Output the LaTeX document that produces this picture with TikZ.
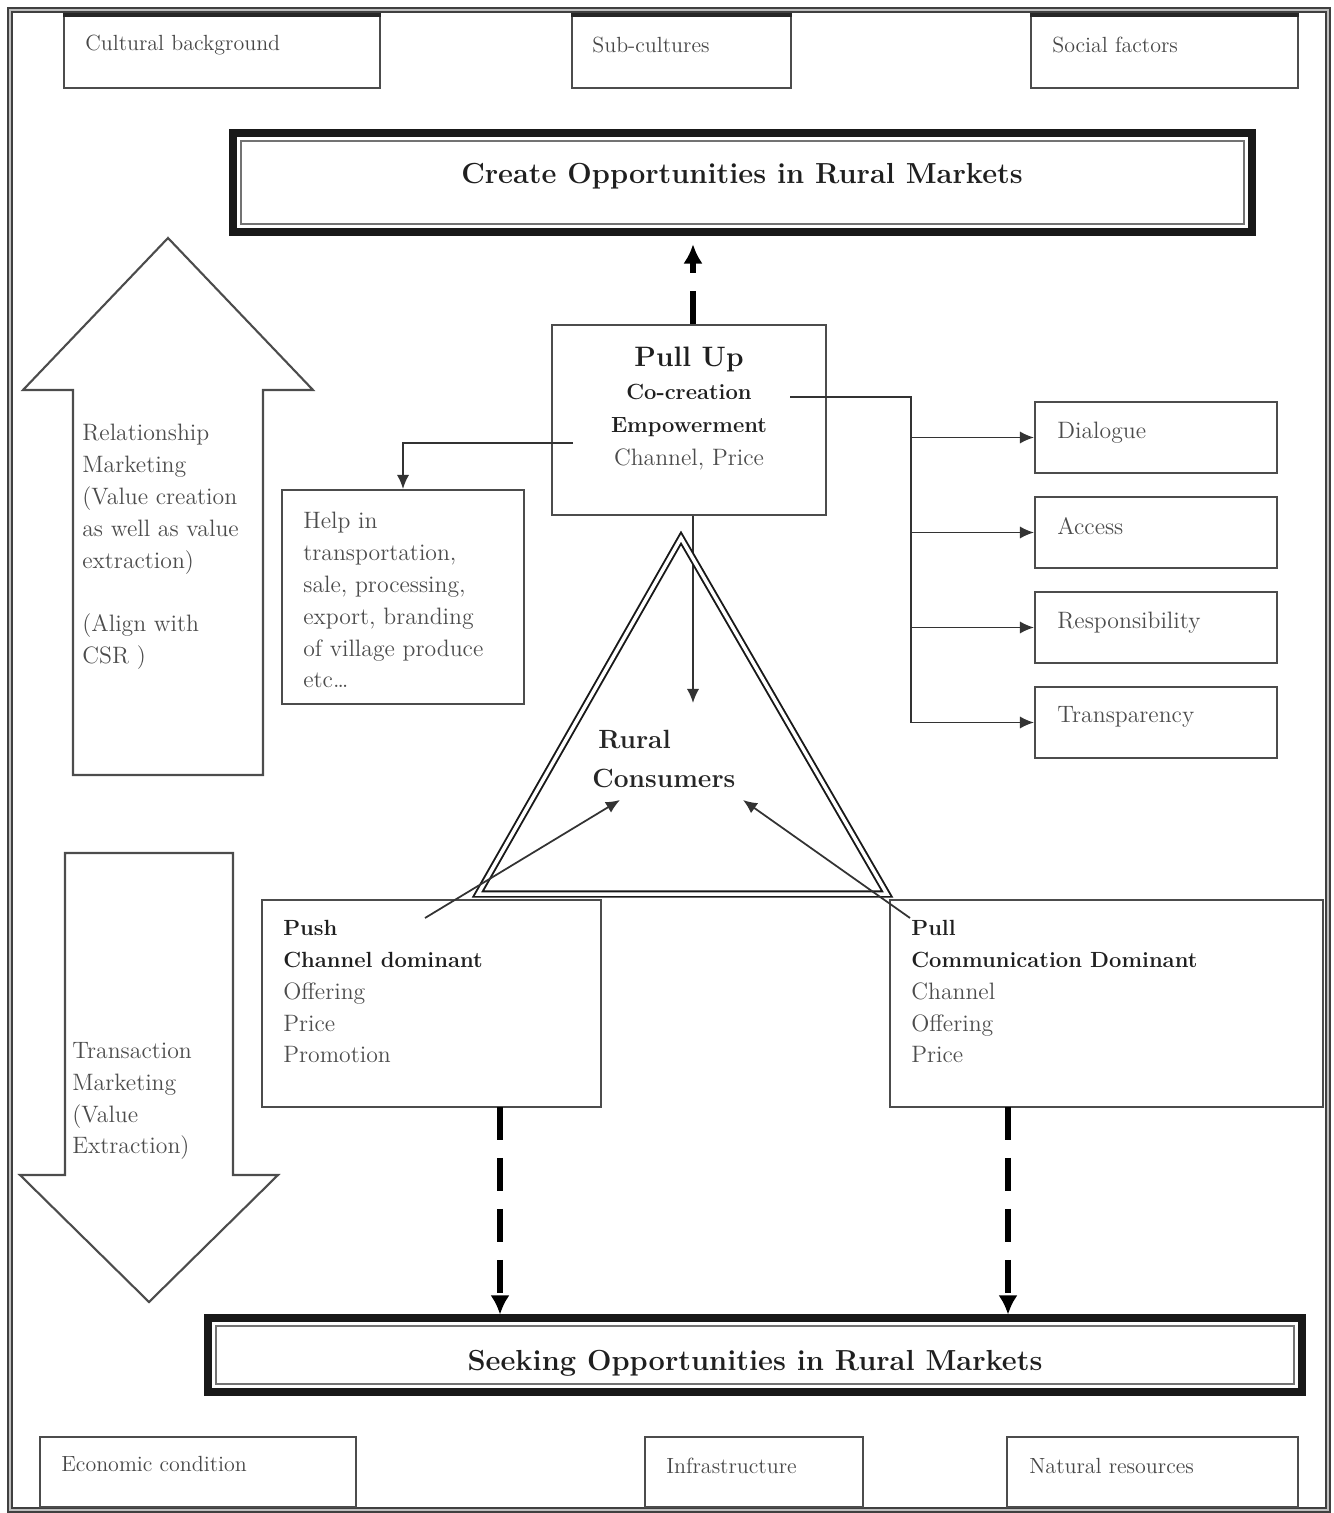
\documentclass[tikz,border=0pt]{standalone}
\usetikzlibrary{arrows.meta,fit}

\tikzset{
    outerframe/.style={draw=black!75, double=black!25, double distance=1.2pt, line width=0.9pt},
    box/.style={draw=black!70, line width=1.2pt, inner sep=0pt},
    banner/.style={draw=black!55, line width=1pt, inner sep=0pt},
    rim/.style={draw=black!90, line width=4.5pt},
    txt/.style={anchor=north west, inner sep=0pt, align=left, text=black!70, font=\fontsize{13.5}{18.1}\selectfont},
    tag/.style={anchor=north west, inner sep=0pt, text=black!72, font=\fontsize{12.5}{15}\selectfont},
    title/.style={anchor=base, inner sep=0pt, text=black!88, font=\fontsize{16.5}{20}\selectfont\bfseries},
    conn/.style={draw=black!80, line width=1pt},
    arr/.style={-{Latex[length=8pt,width=7pt]}},
    bolddash/.style={draw=black, line width=3.6pt, dash pattern=on 19pt off 10pt, -{Latex[length=11pt,width=11pt]}},
    hollow/.style={draw=black!70, line width=1.2pt, line join=miter},
    tri/.style={draw=black!90, line width=1.1pt, double=white, double distance=2pt, line join=miter}
}
\newcommand{\bfline}[1]{{\fontsize{12.5}{18.1}\selectfont\bfseries\color{black!88}#1}}

\begin{document}
\begin{tikzpicture}[x=0.02cm, y=-0.02cm]
        \useasboundingbox (0,0) rectangle (1333,1513);
        \draw[outerframe] (10,10) rectangle (1328,1510);

        \node[box, fit={(64,16) (380,88)}] (cul) {};
        \node[box, fit={(572,16) (791,88)}] (sub) {};
        \node[box, fit={(1031,16) (1298,88)}] (soc) {};
        \foreach \b in {cul,sub,soc}
            \draw[line width=2.4pt, black!85] (\b.north west) -- (\b.north east);
        \node[tag] (cult) at (85,35) {Cultural background};
        \node[tag] (subt) at (592,37) {Sub-cultures};
        \node[tag] (soct) at (1052,37) {Social factors};

        \node[banner, fit={(241,141) (1244,224)}] (cre) {};
        \draw[rim] ([shift={(-4pt,4pt)}]cre.north west) rectangle ([shift={(4pt,-4pt)}]cre.south east);
        \node[title] (cret) at (742,184) {Create Opportunities in Rural Markets};

        \node[box, fit={(552,325) (826,515)}] (pu) {};
        \node[txt, anchor=north, align=center, font=\fontsize{13.5}{18.7}\selectfont] (put) at (689,347)
            {{\fontsize{16}{20}\selectfont\bfseries\color{black!88}Pull Up}\\\bfline{Co-creation}\\\bfline{Empowerment}\\Channel, Price};
        \coordinate (rctop) at (693,703);
        \draw[bolddash, shorten >=11pt] (pu.north -| rctop) -- (cre.south -| rctop);
        \draw[conn, arr] (pu.south -| rctop) -- (rctop);

        \node[box, fit={(1035,402) (1277,473)}] (dlg) {};
        \node[box, fit={(1035,497) (1277,568)}] (acc) {};
        \node[box, fit={(1035,592) (1277,663)}] (resp) {};
        \node[box, fit={(1035,687) (1277,758)}] (transp) {};
        \node[txt] (dlgt) at (1057,422) {Dialogue};
        \node[txt] (acct) at (1057,517) {Access};
        \node[txt] (respt) at (1057,612) {Responsibility};
        \node[txt] (transpt) at (1057,706) {Transparency};
        \coordinate (pur) at (790,397);
        \coordinate (trunk) at (911,397);
        \draw[conn] (pur) -- (trunk) -- (trunk |- transp.west);
        \foreach \b in {dlg,acc,resp,transp}
            \draw[conn, arr] (trunk |- \b.west) -- (\b.west);

        \node[box, fit={(282,490) (524,704)}] (help) {};
        \node[txt] (helpt) at (303,512) {Help in\\transportation,\\sale, processing,\\export, branding\\of village produce\\etc\ldots};
        \coordinate (pul) at (573,443);
        \draw[conn, arr] (pul) -| (help.north);

        \coordinate (apex) at (681,538);
        \coordinate (bl) at (478,894);
        \coordinate (br) at (887,894);
        \draw[tri] (apex) -- (bl) -- (br) -- cycle;
        \node[txt, font=\fontsize{15}{22}\selectfont\bfseries, text=black!85] (rc) at (592,730) {\hspace*{3.4pt}Rural\\Consumers};

        \node[box, fit={(262,900) (601,1107)}] (push) {};
        \node[box, fit={(890,900) (1323,1107)}] (pull) {};
        \node[txt] (pusht) at (283,920) {\bfline{Push}\\\bfline{Channel dominant}\\Offering\\Price\\Promotion};
        \node[txt] (pullt) at (911,920) {\bfline{Pull}\\\bfline{Communication Dominant}\\Channel\\Offering\\Price};
        \coordinate (pshin) at (425,918);
        \coordinate (plin) at (910,918);
        \coordinate (rcl) at (620,800);
        \coordinate (rcr) at (743,800);
        \draw[conn, arr] (pshin) -- (rcl);
        \draw[conn, arr] (plin) -- (rcr);

        \node[banner, fit={(216,1326) (1294,1384)}] (seek) {};
        \draw[rim] ([shift={(-4pt,4pt)}]seek.north west) rectangle ([shift={(4pt,-4pt)}]seek.south east);
        \node[title] (seekt) at (755,1370) {Seeking Opportunities in Rural Markets};
        \coordinate (pshd) at (500,1107);
        \coordinate (pld) at (1008,1107);
        \draw[bolddash, shorten >=6pt] (pshd) -- (pshd |- seek.north);
        \draw[bolddash, shorten >=6pt] (pld) -- (pld |- seek.north);

        \draw[hollow] (73,775) -- (73,390) -- (23,390) -- (168,238) -- (313,390) -- (263,390) -- (263,775) -- cycle;
        \node[txt] (relt) at (82,424) {Relationship\\Marketing\\(Value creation\\as well as value\\extraction)\\[18.1pt](Align with\\CSR )};
        \draw[hollow] (65,853) -- (233,853) -- (233,1175) -- (278,1175) -- (149,1302) -- (20,1175) -- (65,1175) -- cycle;
        \node[txt] (trnt) at (72,1042) {Transaction\\Marketing\\(Value\\Extraction)};

        \node[box, fit={(40,1437) (356,1507)}] (eco) {};
        \node[box, fit={(645,1437) (863,1507)}] (infra) {};
        \node[box, fit={(1007,1437) (1298,1507)}] (nat) {};
        \node[tag] (ecot) at (61,1456) {Economic condition};
        \node[tag] (infrat) at (666,1458) {Infrastructure};
        \node[tag] (natt) at (1029,1458) {Natural resources};
\end{tikzpicture}
\end{document}
